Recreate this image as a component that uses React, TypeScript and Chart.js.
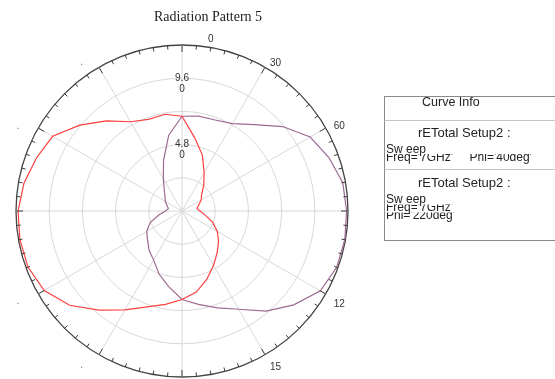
import React, { useEffect, useRef } from 'react';
import { Chart, registerables } from 'chart.js';

Chart.register(...registerables);

// ---------- data ----------
const TITLE = 'Radiation Pattern 5';

// theta (deg), clockwise from top, every 10 degrees
const THETA = [
  0, 10, 20, 30, 40, 50, 60, 70, 80, 90, 100, 110,
  120, 130, 140, 150, 160, 170, 180, 190, 200, 210, 220, 230,
  240, 250, 260, 270, 280, 290, 300, 310, 320, 330, 340, 350,
];

// rETotal, Phi = 40deg (red)
const PHI40 = [
  6.85, 5.35, 4.3, 3.2, 2.45, 1.85, 1.6, 1.3, 1.1, 1.3, 1.7, 2.35,
  2.95, 3.45, 3.95, 4.55, 5.25, 5.95, 6.4, 6.85, 7.38, 8.25, 9.35, 10.6,
  11.5, 11.85, 11.9, 11.85, 11.6, 11.2, 10.8, 9.65, 8.5, 7.45, 7.05, 7.1,
];

// rETotal, Phi = 220deg (purple)
const PHI220 = [
  6.85, 6.97, 7.0, 7.3, 8.15, 9.5, 10.7, 11.3, 11.8, 11.9, 11.95, 11.9,
  11.55, 10.55, 9.45, 8.2, 7.45, 6.85, 6.4, 5.55, 4.85, 4.1, 3.7, 3.25,
  2.95, 2.45, 1.7, 1.2, 1.0, 1.15, 1.4, 1.6, 2.0, 2.7, 3.9, 5.55,
];

const R_MIN = 0;
const R_MAX = 12;
const R_STEP = 2.4;

// radial tick labels (value -> wrapped text lines)
const RING_VALUES = [4.8, 9.6];
const RING_TEXT = [['4.8', '0'], ['9.6', '0']];

// angular labels, one every 30 degrees
const ANGLE_LABELS = ['0', '30', '60', '', '12', '15', '', '.', '.', '', '.', '.'];

// legend ("Curve Info")
const LEGEND_TITLE = 'Curve Info';
const LEGEND_HEADS = ['rETotal Setup2 :', 'rETotal Setup2 :'];
const LEGEND_LINES = [
  ['Sw eep', "Freq='7GHz'     Phi='40deg'"],
  ['Sw eep', "Freq='7GHz'", "Phi='220deg'"],
];

const COLORS = ['#ff3f3f', '#9c6b93'];

const SANS = '"Liberation Sans", Arial, sans-serif';
const SERIF = '"Liberation Serif", "Times New Roman", serif';

const decorPlugin = {
  id: 'decor',
  beforeDatasetsDraw(chart: any) {
    const scale = chart.scales.r;
    const ctx = chart.ctx as CanvasRenderingContext2D;
    ctx.save();
    ctx.fillStyle = '#333';
    ctx.font = `10px ${SANS}`;
    ctx.textAlign = 'center';
    ctx.textBaseline = 'middle';
    RING_VALUES.forEach((v, k) => {
      const d = scale.getDistanceFromCenterForValue(v);
      RING_TEXT[k].forEach((t, j) => {
        ctx.fillText(t, scale.xCenter, scale.yCenter - d + j * 11);
      });
    });
    ctx.restore();
  },
  afterDraw(chart: any) {
    const scale = chart.scales.r;
    const ctx = chart.ctx as CanvasRenderingContext2D;
    const R = scale.drawingArea;
    const n = chart.data.labels.length;

    // outer ring ticks (every 5 degrees, major every 30)
    ctx.save();
    ctx.strokeStyle = '#3c3c3c';
    ctx.lineWidth = 1;
    for (let i = 0; i < n; i++) {
      for (let h = 0; h < 2; h++) {
        const add = h ? Math.PI / n : 0;
        const major = h === 0 && i % 3 === 0;
        const len = major ? 7 : 4;
        const a = scale.getPointPosition(i, R, add);
        const b = scale.getPointPosition(i, R - len, add);
        ctx.beginPath();
        ctx.moveTo(a.x, a.y);
        ctx.lineTo(b.x, b.y);
        ctx.stroke();
      }
    }
    ctx.restore();

    // angular labels
    ctx.save();
    ctx.font = `10px ${SANS}`;
    ANGLE_LABELS.forEach((t, k) => {
      if (!t) return;
      const idx = k * 3;
      const p = scale.getPointPosition(idx, R + 8);
      const lower = p.y > scale.yCenter;
      if (t === '.') {
        ctx.fillStyle = '#777';
        ctx.textAlign = 'right';
        ctx.textBaseline = 'alphabetic';
        ctx.fillText(t, p.x - 12, p.y + (lower ? 6 : 4.5));
      } else {
        ctx.fillStyle = '#333';
        ctx.textAlign = 'left';
        ctx.textBaseline = 'middle';
        const dx = k === 0 ? 26 : 1;
        ctx.fillText(t, p.x + dx, p.y + (k === 0 ? 2 : lower ? 6 : 2.5));
      }
    });
    ctx.restore();

    // title
    ctx.save();
    ctx.font = `14px ${SERIF}`;
    ctx.fillStyle = '#222';
    ctx.textAlign = 'center';
    ctx.textBaseline = 'middle';
    ctx.fillText(TITLE, scale.xCenter + 26, 17);
    ctx.restore();

    // legend box
    ctx.save();
    const bx = 384.5, by = 96.5, bw = 190, bh = 144;
    ctx.fillStyle = '#fff';
    ctx.fillRect(bx, by, bw, bh);
    ctx.strokeStyle = '#8a8a8a';
    ctx.lineWidth = 1;
    ctx.strokeRect(bx, by, bw, bh);
    ctx.strokeStyle = '#c4c4c4';
    [120.5, 169.5].forEach((y) => {
      ctx.beginPath();
      ctx.moveTo(bx, y);
      ctx.lineTo(bx + bw, y);
      ctx.stroke();
    });
    ctx.fillStyle = '#222';
    ctx.textBaseline = 'middle';
    ctx.textAlign = 'left';
    ctx.font = `12.5px ${SANS}`;
    ctx.fillText(LEGEND_TITLE, 422, 103);
    const headY = [133, 183];
    const lineY = [[150, 157.5], [200, 208, 216]];
    LEGEND_HEADS.forEach((h, e) => {
      ctx.font = `13px ${SANS}`;
      ctx.fillStyle = '#222';
      ctx.fillText(h, 418, headY[e]);
      ctx.font = `12px ${SANS}`;
      LEGEND_LINES[e].forEach((t, j) => {
        const y = lineY[e][j];
        ctx.save();
        if (j > 0) {
          ctx.beginPath();
          ctx.rect(384, y - 3.5, 200, 20);
          ctx.clip();
        }
        ctx.fillText(t, 386, y);
        ctx.restore();
      });
    });
    ctx.restore();
  },
};

export default function App() {
  const ref = useRef<HTMLCanvasElement | null>(null);

  useEffect(() => {
    if (!ref.current) return;
    const chart = new Chart(ref.current, {
      type: 'radar',
      data: {
        labels: THETA.map(String),
        datasets: [
          {
            label: "Phi='40deg'",
            data: PHI40,
            borderColor: COLORS[0],
            borderWidth: 1.2,
            fill: false,
            pointRadius: 0,
            tension: 0,
          },
          {
            label: "Phi='220deg'",
            data: PHI220,
            borderColor: COLORS[1],
            borderWidth: 1.2,
            fill: false,
            pointRadius: 0,
            tension: 0,
          },
        ],
      },
      options: {
        responsive: false,
        animation: false,
        devicePixelRatio: 1,
        layout: { padding: { left: 16, top: 45, right: 206, bottom: 1 } },
        plugins: {
          legend: { display: false },
          tooltip: { enabled: false },
          title: { display: false },
        },
        scales: {
          r: {
            min: R_MIN,
            max: R_MAX,
            startAngle: 0,
            ticks: { display: false, stepSize: R_STEP },
            pointLabels: { display: false },
            grid: {
              circular: true,
              color: (c: any) => (c.tick && c.tick.value >= R_MAX - 0.01 ? '#444444' : '#d8d8d8'),
              lineWidth: (c: any) => (c.tick && c.tick.value >= R_MAX - 0.01 ? 1.3 : 1),
            },
            angleLines: {
              display: true,
              color: '#d8d8d8',
              lineWidth: (c: any) => (c.index % 3 === 0 ? 1 : 0),
            },
          },
        },
      },
      plugins: [decorPlugin],
    });
    return () => chart.destroy();
  }, []);

  return (
    <div style={{ position: 'fixed', left: 0, top: 0, width: 555, height: 379, background: '#fff', overflow: 'hidden' }}>
      <canvas ref={ref} width={555} height={379} style={{ display: 'block' }} />
    </div>
  );
}
